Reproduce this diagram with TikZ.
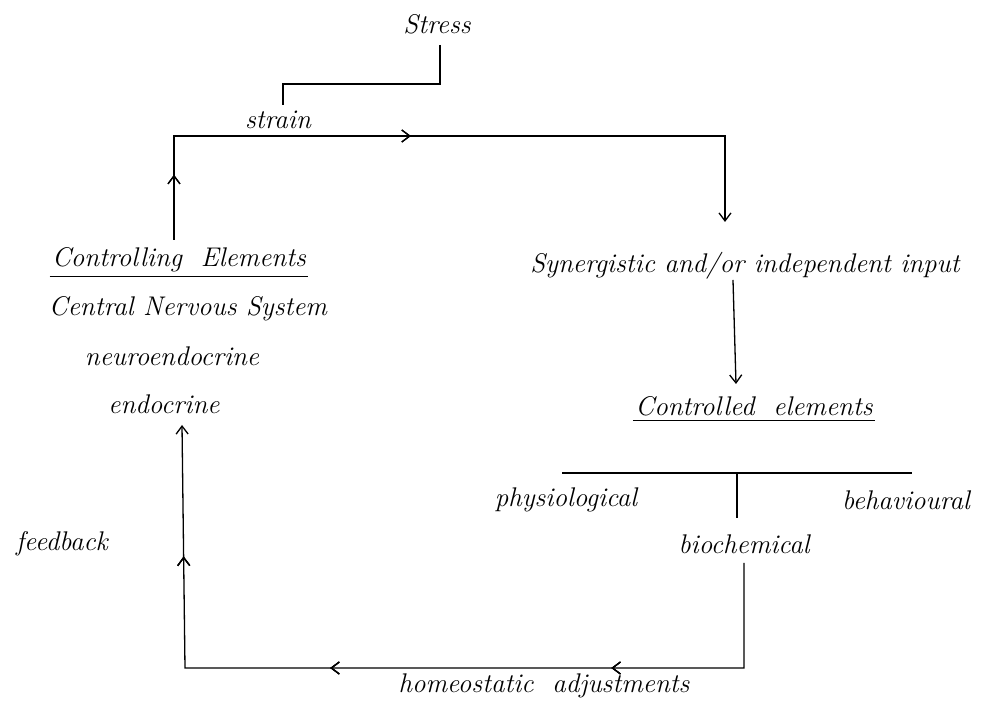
\documentclass[tikz,border=0pt]{standalone}
\usetikzlibrary{arrows.meta,decorations.markings}
\begin{document}
\begin{tikzpicture}[x=0.5pt,y=-0.5pt,
  lbl/.style={inner sep=1pt,font=\fontsize{13.5}{15}\selectfont\itshape},
  wire/.style={line width=0.65pt,line join=miter},
  barb/.style={-{Straight Barb[length=4pt,width=6pt]}},
  midarr/.style={postaction={decorate},decoration={markings,
     mark=at position #1 with {\arrow{Straight Barb[length=4pt,width=6pt]}}}},
  uline/.style={line width=0.6pt}]
\useasboundingbox (0,0) rectangle (981,704);
% texts
\node[lbl] (stress) at (437,24) {Stress};
\node[lbl] (strain) at (278,120) {strain};
\node[lbl] (ctrl) at (179,260) {Controlling\ \ Elements};
\node[lbl] (cns) at (188,309) {Central Nervous System};
\node[lbl] (neuro) at (172,356) {neuroendocrine};
\node[lbl] (endo) at (164,404) {endocrine};
\node[lbl] (syn) at (745,266) {Synergistic and/or independent input};
\node[lbl] (ctrld) at (754,406) {Controlled\ \ elements};
\node[lbl] (phys) at (566,500) {physiological};
\node[lbl] (behav) at (906,500) {behavioural};
\node[lbl] (bioch) at (744,544) {biochemical};
\node[lbl] (feed) at (62,544) {feedback};
\node[lbl] (homeo) at (544,686) {homeostatic\ \ adjustments};
% underlines
\draw[uline] ([yshift=-1pt]ctrl.south west) -- ([yshift=-1pt]ctrl.south east);
\draw[uline] ([yshift=-1pt]ctrld.south west) -- ([yshift=-1pt]ctrld.south east);
% stress to strain
\coordinate (s1) at (440,45);
\coordinate (s2) at (440,84);
\coordinate (s3) at (283,84);
\coordinate (s4) at (283,105);
\draw[wire] (s1) -- (s2) -- (s3) -- (s4);
% upper loop
\coordinate (a1) at (174,240);
\coordinate (a2) at (174,136);
\coordinate (a3) at (725,136);
\coordinate (a4) at (725,222);
\draw[wire,barb,midarr=0.088,midarr=0.46] (a1) -- (a2) -- (a3) -- (a4);
% synergistic to controlled
\coordinate (b1) at (733,280);
\coordinate (b2) at (736,384);
\draw[wire,barb] (b1) -- (b2);
% branches
\coordinate (c1) at (562,473);
\coordinate (c2) at (912,473);
\coordinate (c3) at (737,473);
\coordinate (c4) at (737,518);
\draw[wire] (c1) -- (c2);
\draw[wire] (c3) -- (c4);
% lower loop
\coordinate (d1) at (744,563);
\coordinate (d2) at (744,668);
\coordinate (d3) at (185,668);
\coordinate (d4) at (182,425);
\draw[wire,barb,midarr=0.262,midarr=0.572,midarr=0.855] (d1) -- (d2) -- (d3) -- (d4);
\end{tikzpicture}
\end{document}
